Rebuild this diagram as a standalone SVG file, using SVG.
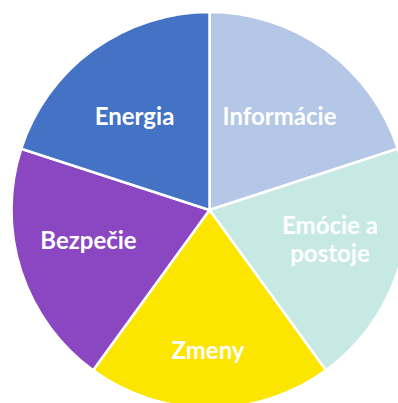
<svg xmlns="http://www.w3.org/2000/svg" width="398" height="403" viewBox="0 0 398 403">
<style>
.s{stroke:#fff;stroke-width:2.5;stroke-linejoin:round}
.t{font-family:Lato,"Open Sans","Liberation Sans",sans-serif;font-weight:bold;font-size:24px;fill:#fff;text-anchor:middle}
</style>
<rect width="398" height="403" fill="#fff"/>
<g id="informacie"><path class="s" fill="#B4C7E7" d="M209.5,210 L209.5,12 A198,198 0 0 1 397.81,148.81 Z"/><text class="t" x="279.5" y="125.3">Informácie</text></g>
<g id="emocie"><path class="s" fill="#C6EAE3" d="M209.5,210 L397.81,148.81 A198,198 0 0 1 325.88,370.19 Z"/><text class="t" x="330" y="233.5">Emócie a</text><text class="t" x="330" y="261.5">postoje</text></g>
<g id="zmeny"><path class="s" fill="#FCE600" d="M209.5,210 L325.88,370.19 A198,198 0 0 1 93.12,370.19 Z"/><text class="t" x="208" y="358.5">Zmeny</text></g>
<g id="bezpecie"><path class="s" fill="#8A47C1" d="M209.5,210 L93.12,370.19 A198,198 0 0 1 21.19,148.81 Z"/><text class="t" x="88.5" y="248.5">Bezpečie</text></g>
<g id="energia"><path class="s" fill="#4472C4" d="M209.5,210 L21.19,148.81 A198,198 0 0 1 209.5,12 Z"/><text class="t" x="134.5" y="125.3">Energia</text></g>
<g id="connectors"></g>
</svg>
